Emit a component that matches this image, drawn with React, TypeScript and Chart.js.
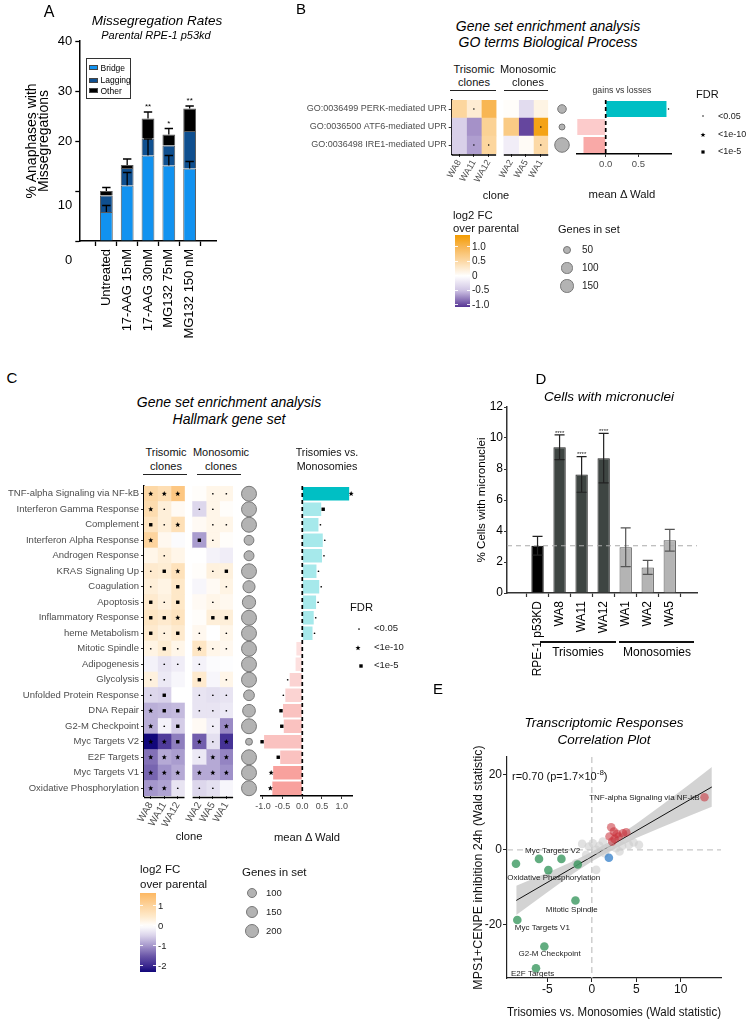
import React, { useEffect, useRef } from 'react';
import { Chart, registerables } from 'chart.js';

Chart.register(...registerables);
const FONT = '"Liberation Sans", Arial, Helvetica, sans-serif';
Chart.defaults.font.family = FONT;
Chart.defaults.color = '#222';

// ================= Panel A data =================
const aConditions = ['Untreated', '17-AAG 15nM', '17-AAG 30nM', 'MG132 75nM', 'MG132 150 nM'];
const aBridge = [5.8, 11.1, 17.1, 15.1, 14.5];
const aLagging = [3.3, 3.5, 3.4, 4.0, 7.5];
const aOther = [0.9, 0.6, 4.0, 2.2, 4.5];
const aBridgeErr = [1.3, 2.6, 3.3, 2.0, 1.4];
const aTotalErr = [0.7, 1.2, 1.3, 1.2, 0.5];
const aSignif = ['', '', '**', '*', '**'];
const aYTicks = [0, 10, 20, 30, 40];

// ================= Panel B data =================
const clones = ['WA8', 'WA11', 'WA12', 'WA2', 'WA5', 'WA1'];
const bTerms = ['GO:0036499 PERK-mediated UPR', 'GO:0036500 ATF6-mediated UPR', 'GO:0036498 IRE1-mediated UPR'];
const bLog2FC = [
  [0.55, 0.25, 1.0, 0.03, -0.3, 0.15],
  [-0.4, -0.7, 0.6, 0.7, -1.0, 1.3],
  [-0.4, -0.65, 0.55, -0.15, 0.05, 0.5],
];
const bFdr = ['-d----', '-----d', '-dd--d'];
const bGenes = [50, 14, 181];
const bWald = [0.93, -0.435, -0.34];
const bWaldFdr = ['d', '-', '-'];
const bWaldTicks = [0, 0.5];
const bColorTicks = [1.0, 0.5, 0, -0.5, -1.0];
const bSizeTicks = [50, 100, 150];

// ================= Panel C data =================
const cSets = [
  'TNF-alpha Signaling via NF-kB', 'Interferon Gamma Response', 'Complement', 'Interferon Alpha Response',
  'Androgen Response', 'KRAS Signaling Up', 'Coagulation', 'Apoptosis', 'Inflammatory Response',
  'heme Metabolism', 'Mitotic Spindle', 'Adipogenesis', 'Glycolysis', 'Unfolded Protein Response',
  'DNA Repair', 'G2-M Checkpoint', 'Myc Targets V2', 'E2F Targets', 'Myc Targets V1', 'Oxidative Phosphorylation',
];
const cLog2FC = [
  [0.9, 0.75, 1.3, 0.05, 0.2, 0.2],
  [0.8, 0.35, 0.1, -0.45, 0.2, 0.05],
  [0.6, 0.35, 0.7, 0.1, 0.2, 0.2],
  [1.0, 0.15, -0.05, -0.95, 0.2, 0.05],
  [0.2, 0.35, 0.2, 0.0, -0.15, -0.2],
  [0.45, 0.4, 0.65, 0.05, 0.3, 0.3],
  [0.35, 0.25, 0.5, -0.1, 0.1, 0.25],
  [0.45, 0.3, 0.5, 0.1, 0.2, 0.15],
  [0.55, 0.45, 0.6, 0.05, 0.35, 0.35],
  [0.45, 0.3, 0.45, 0.15, 0.0, 0.2],
  [0.25, 0.4, 0.2, 0.55, 0.2, 0.15],
  [-0.15, -0.3, -0.2, -0.15, -0.05, -0.02],
  [0.3, -0.25, -0.1, 0.45, -0.1, 0.2],
  [-0.45, -0.5, 0.0, -0.3, -0.35, -0.3],
  [-0.8, -0.75, -0.7, -0.3, -0.3, -0.25],
  [-0.8, -0.15, -0.55, 0.1, -0.2, -1.1],
  [-2.35, -1.8, -1.2, -1.45, -0.35, -1.9],
  [-1.3, -0.85, -0.95, -0.25, -0.85, -1.15],
  [-1.4, -1.05, -0.85, -0.85, -0.85, -1.05],
  [-1.0, -0.9, -0.3, -0.45, -0.35, -0.1],
];
const cFdr = [
  'sss-dd', 'sd-dd-', 'qds-dd', 's--qd-', '-d----', 'dqs-dq', 'd-q--d', 'qdq-d-', 'qqs-qq', 'qdqd-d',
  'dqdsdd', '-ddd--', 'dd-q-d', 'dq-ddd', 'sqqddd', 'sdq-ds', 'ssqsds', 'sssdss', 'ssssss', 'ssddd-',
];
const cGenes = [200, 200, 200, 97, 100, 200, 138, 161, 200, 200, 199, 200, 200, 113, 150, 200, 58, 200, 200, 200];
const cWald = [1.19, 0.48, 0.41, 0.52, 0.5, 0.36, 0.43, 0.35, 0.29, 0.26, -0.15, -0.17, -0.32, -0.43, -0.49, -0.47, -0.97, -0.56, -0.74, -0.76];
const cWaldFdr = ['s', 'q', 'd', 'd', 'd', 'd', 'd', 'd', 'd', 'd', '-', '-', 'd', 'd', 'q', 'q', 'q', 'q', 's', 's'];
const cWaldTicks = [-1, -0.5, 0, 0.5, 1];
const cColorTicks = [1, 0, -1, -2];
const cSizeTicks = [100, 150, 200];

// ================= Panel D data =================
const dGroups = ['RPE-1 p53KD', 'WA8', 'WA11', 'WA12', 'WA1', 'WA2', 'WA5'];
const dMean = [3.05, 9.4, 7.65, 8.7, 2.95, 1.65, 3.4];
const dErr = [0.6, 0.8, 1.15, 1.6, 1.25, 0.45, 0.7];
const dSignif = ['', '****', '****', '****', '', '', ''];
const dBaseline = 3.05;
const dYTicks = [0, 2, 4, 6, 8, 10, 12];

// ================= Panel E data =================
const eGrey = [
  { x: -1.09, y: 1.6 }, { x: 0.11, y: 1.78 }, { x: 0.86, y: 1.07 }, { x: 1.24, y: 2.22 }, { x: 1.69, y: 0.18 },
  { x: 1.43, y: -0.89 }, { x: -0.64, y: -1.33 }, { x: 0.49, y: -5.33 }, { x: 3.42, y: 1.07 }, { x: 4.17, y: 1.33 },
  { x: 4.7, y: 1.96 }, { x: 5.3, y: 1.33 }, { x: 3.12, y: -0.44 }, { x: 2.74, y: 0.44 }, { x: 0.49, y: 0 },
  { x: -0.34, y: 0.89 }, { x: 2.18, y: 0.89 }, { x: -1.77, y: -3.56 },
];
const eRed = [
  { x: 12.67, y: 14.04, label: 'TNF-alpha Signaling via NF-kB' },
  { x: 2.18, y: 6.04, label: '' }, { x: 2.48, y: 4.89, label: '' }, { x: 1.99, y: 3.56, label: '' },
  { x: 2.56, y: 2.93, label: '' }, { x: 3.01, y: 3.56, label: '' }, { x: 3.5, y: 4.44, label: '' },
  { x: 3.87, y: 4.71, label: '' }, { x: 2.29, y: 2.22, label: '' }, { x: 2.82, y: 4.27, label: '' },
];
const eBlue = [{ x: 1.92, y: -2.1 }];
const eGreen = [
  { x: -8.53, y: -3.7, label: '' },
  { x: -5.94, y: -2.4, label: 'Myc Targets V2' },
  { x: -3.42, y: -2.4, label: '' },
  { x: -1.58, y: -3.9, label: '' },
  { x: -4.89, y: -5.4, label: 'Oxidative Phosphorylation' },
  { x: -1.84, y: -13.5, label: 'Mitotic Spindle' },
  { x: -8.38, y: -18.7, label: 'Myc Targets V1' },
  { x: -5.34, y: -25.8, label: 'G2-M Checkpoint' },
  { x: -6.28, y: -31.6, label: 'E2F Targets' },
];
const eFitX = [-8.5, 13.5];
const eFitY = [-13.5, 16.8];
const eBandX = [-8.5, -5, -2, 0, 2, 5, 8, 11, 13.5];
const eBandLow = [-17.4, -11.3, -6.2, -3.1, -0.35, 3.2, 6.2, 9.1, 11.5];
const eBandHigh = [-9.6, -6.1, -2.9, -0.5, 2.25, 7.0, 12.2, 17.5, 22.1];
const eXTicks = [-5, 0, 5, 10];
const eYTicks = [-20, 0, 20];

// ================= styles =================
const aColors = { bridge: '#1192f0', lagging: '#0f4f8f', other: '#000000' };
const aYLabelShift = [19.5, 14, 0, 0, 0]; // label offsets (px) as printed in the source figure
const dBarColors = ['#000000', '#3e4542', '#3e4542', '#3e4542', '#b4b4b4', '#b4b4b4', '#b4b4b4'];
const dBorderColors = ['#000', '#222', '#222', '#222', '#555', '#555', '#555'];
const bWaldColors = ['#00bfc4', '#fccbcb', '#f9a9a7'];
const waldColor = (v: number, f: string) => v >= 0
  ? (f === 's' ? '#00bfc4' : '#a6e9eb')
  : (f === 's' ? '#f8a19d' : f === 'q' ? '#fac2c0' : f === 'd' ? '#fbd3d2' : '#fde0df');
const eLabelStyle: Record<string, { dx: number; dy: number; align: CanvasTextAlign }> = {
  'TNF-alpha Signaling via NF-kB': { dx: -5, dy: 0, align: 'right' },
  'Myc Targets V2': { dx: 13.6, dy: -8, align: 'center' },
  'Oxidative Phosphorylation': { dx: 5.3, dy: 8, align: 'center' },
  'Mitotic Spindle': { dx: -3.7, dy: 9, align: 'center' },
  'Myc Targets V1': { dx: 25, dy: 8, align: 'center' },
  'G2-M Checkpoint': { dx: 5.3, dy: 7.6, align: 'center' },
  'E2F Targets': { dx: -3.4, dy: 5.7, align: 'center' },
};

type Stop = [number, string];
const hexRgb = (c: string) => { const n = parseInt(c.slice(1), 16); return [(n >> 16) & 255, (n >> 8) & 255, n & 255]; };
const rgbStr = (c: number[]) => `rgb(${c.map((x) => Math.round(x)).join(',')})`;
function colorScale(stops: Stop[]) {
  const s = stops.slice().sort((a, b) => a[0] - b[0]).map(([v, c]) => ({ v, c: hexRgb(c) }));
  return (v: number) => {
    if (v <= s[0].v) return rgbStr(s[0].c);
    if (v >= s[s.length - 1].v) return rgbStr(s[s.length - 1].c);
    for (let k = 0; k < s.length - 1; k++) {
      const a = s[k], b = s[k + 1];
      if (v >= a.v && v <= b.v) {
        const t = (v - a.v) / (b.v - a.v);
        return rgbStr(a.c.map((ch, m) => ch + (b.c[m] - ch) * t));
      }
    }
    return rgbStr(s[0].c);
  };
}
const bColor = colorScale([[1.41, '#f39c00'], [1.0, '#f8b653'], [0.5, '#fcd9a6'], [0, '#ffffff'], [-0.5, '#cfc4e4'], [-1.07, '#563494']]);
const cColor = colorScale([[1.64, '#fdb863'], [1.0, '#fdd49e'], [0.5, '#fee8c8'], [0, '#ffffff'], [-0.5, '#d9d2ea'], [-1.0, '#a597cc'], [-1.5, '#6c58a9'], [-2.0, '#3b2890'], [-2.31, '#12077a']]);
const bRadius = (n: number) => Math.sqrt(5.2 + 0.265 * n);
const cRadius = (n: number) => Math.sqrt(Math.max(4, 0.31 * n - 6));

type SymSize = { dot: number; sq: number; star: number };
const bSym: SymSize = { dot: 0.75, sq: 3.2, star: 2.6 };
const cSym: SymSize = { dot: 0.85, sq: 3.4, star: 2.7 };

function drawSym(ctx: CanvasRenderingContext2D, kind: string, x: number, y: number, s: SymSize) {
  ctx.fillStyle = '#000';
  if (kind === 'd') {
    ctx.beginPath(); ctx.arc(x, y, s.dot, 0, Math.PI * 2); ctx.fill();
  } else if (kind === 'q') {
    ctx.fillRect(x - s.sq / 2, y - s.sq / 2, s.sq, s.sq);
  } else if (kind === 's') {
    ctx.beginPath();
    for (let k = 0; k < 10; k++) {
      const a = -Math.PI / 2 + (k * Math.PI) / 5;
      const r = k % 2 ? s.star * 0.42 : s.star;
      const px = x + r * Math.cos(a), py = y + r * Math.sin(a);
      if (k === 0) ctx.moveTo(px, py); else ctx.lineTo(px, py);
    }
    ctx.closePath(); ctx.fill();
  }
}

const baseOptions = {
  responsive: false,
  animation: false,
  events: [],
  devicePixelRatio: 1,
};
const noPlugins = { legend: { display: false }, tooltip: { enabled: false } };

// ================= Panel A =================
function makeA() {
  const stackTop = (i: number) => aBridge[i] + aLagging[i] + aOther[i];
  const errPlugin = {
    id: 'aErr',
    afterDatasetsDraw(chart: any) {
      const { ctx, scales: { x, y } } = chart;
      ctx.save();
      ctx.strokeStyle = '#000';
      ctx.lineWidth = 1.3;
      aConditions.forEach((_, i) => {
        const px = x.getPixelForValue(i);
        const segs = [[aBridge[i], aBridgeErr[i]], [stackTop(i), aTotalErr[i]]];
        segs.forEach(([b, e]) => {
          const y0 = y.getPixelForValue(b), y1 = y.getPixelForValue(b + e);
          ctx.beginPath();
          ctx.moveTo(px, y0); ctx.lineTo(px, y1);
          ctx.moveTo(px - 4.2, y1); ctx.lineTo(px + 4.2, y1);
          ctx.stroke();
        });
        if (aSignif[i]) {
          ctx.fillStyle = '#000';
          ctx.font = `8px ${FONT}`;
          ctx.textAlign = 'center';
          ctx.textBaseline = 'bottom';
          ctx.fillText(aSignif[i], px, y.getPixelForValue(stackTop(i) + aTotalErr[i]) - 1);
        }
      });
      ctx.fillStyle = '#000';
      ctx.font = `13px ${FONT}`;
      ctx.textAlign = 'right';
      ctx.textBaseline = 'middle';
      aYTicks.forEach((v, k) => {
        ctx.fillText(String(v), chart.chartArea.left - 7, y.getPixelForValue(v) + aYLabelShift[k]);
      });
      ctx.restore();
    },
  };
  const ds = (label: string, vals: number[], color: string) => ({
    label, data: vals.map((v, i) => ({ x: i, y: v })), backgroundColor: color,
    borderColor: '#5a5a5a', borderWidth: 1, barPercentage: 0.615, categoryPercentage: 1,
  });
  return {
    type: 'bar',
    data: { datasets: [ds('Bridge', aBridge, aColors.bridge), ds('Lagging', aLagging, aColors.lagging), ds('Other', aOther, aColors.other)] },
    options: {
      ...baseOptions,
      layout: { padding: { left: 20, top: 41, right: 13.3, bottom: 0 } },
      plugins: noPlugins,
      scales: {
        x: {
          type: 'linear', stacked: true, min: -0.64, max: 4.64,
          afterBuildTicks: (s: any) => { s.ticks = aConditions.map((_, i) => ({ value: i })); },
          ticks: { autoSkip: false, minRotation: 90, maxRotation: 90, font: { size: 13 }, color: '#000', padding: 3, callback: (_v: any, i: number) => aConditions[i] },
          grid: { drawOnChartArea: false, tickLength: 5, tickColor: '#000', tickWidth: 1.3 },
          border: { color: '#000', width: 1.5 },
          afterFit: (s: any) => { s.height = 104; },
        },
        y: {
          stacked: true, min: 0, max: 40,
          afterBuildTicks: (s: any) => { s.ticks = aYTicks.map((v) => ({ value: v })); },
          ticks: { display: false },
          grid: { drawOnChartArea: false, tickLength: 4, tickColor: '#000', tickWidth: 1.3 },
          border: { color: '#000', width: 1.5 },
          title: { display: true, text: ['% Anaphases with', 'Missegregations'], font: { size: 14, lineHeight: 0.9 }, color: '#000', padding: { top: 5.7, bottom: 0 } },
          afterFit: (s: any) => { s.width = 59.3; },
        },
      },
    },
    plugins: [errPlugin],
  };
}

// ================= Heatmap (B & C) =================
type HeatParams = {
  rows: string[]; values: number[][]; fdr: string[]; color: (v: number) => string; gap: number;
  rowFont: number; colFont: number; yWidth: number; padTop: number; padRight: number; xHeight: number;
  rotation: number; sym: SymSize; lineOffset: number;
};
function heatmapConfig(p: HeatParams) {
  const order = [0, 1, 2, -1, 3, 4, 5];
  const datasets = order.map((j) => (j < 0
    ? { data: p.rows.map(() => p.gap), backgroundColor: 'rgba(0,0,0,0)', borderWidth: 0, colIndex: -1 }
    : { data: p.rows.map(() => 1), backgroundColor: p.rows.map((_, i) => p.color(p.values[i][j])), borderWidth: 0, colIndex: j }));
  const tickPos = [0.5, 1.5, 2.5, 3.5 + p.gap, 4.5 + p.gap, 5.5 + p.gap];
  const symPlugin = {
    id: 'heatSym',
    afterDatasetsDraw(chart: any) {
      const { ctx } = chart;
      ctx.save();
      chart.data.datasets.forEach((d: any, di: number) => {
        if (d.colIndex < 0) return;
        chart.getDatasetMeta(di).data.forEach((el: any, i: number) => {
          const { x, base, y } = el.getProps(['x', 'base', 'y'], true);
          drawSym(ctx, p.fdr[i][d.colIndex], (x + base) / 2, y, p.sym);
        });
      });
      ctx.restore();
    },
    afterDraw(chart: any) {
      const { ctx, chartArea, scales: { x } } = chart;
      ctx.save();
      ctx.strokeStyle = '#000';
      ctx.lineWidth = 1.5;
      const yy = chartArea.bottom + p.lineOffset;
      [[0, 3], [3 + p.gap, 6 + p.gap]].forEach(([a, b]) => {
        ctx.beginPath();
        ctx.moveTo(x.getPixelForValue(a), yy);
        ctx.lineTo(x.getPixelForValue(b), yy);
        ctx.stroke();
      });
      ctx.restore();
    },
  };
  return {
    type: 'bar',
    data: { labels: p.rows, datasets: datasets.map((d) => ({ ...d, barPercentage: 1, categoryPercentage: 1 })) },
    options: {
      ...baseOptions,
      indexAxis: 'y',
      layout: { padding: { left: 0, top: p.padTop, right: p.padRight, bottom: 0 } },
      plugins: noPlugins,
      scales: {
        x: {
          type: 'linear', stacked: true, min: 0, max: 6 + p.gap,
          afterBuildTicks: (s: any) => { s.ticks = tickPos.map((v) => ({ value: v })); },
          ticks: { autoSkip: false, minRotation: p.rotation, maxRotation: p.rotation, font: { size: p.colFont }, color: '#4d4d4d', padding: 1, callback: (_v: any, i: number) => clones[i] },
          grid: { drawOnChartArea: false, tickLength: 3, tickColor: '#333' },
          border: { display: false },
          afterFit: (s: any) => { s.height = p.xHeight; },
        },
        y: {
          type: 'category', stacked: true, offset: true,
          ticks: { autoSkip: false, font: { size: p.rowFont }, color: '#4d4d4d', padding: 2 },
          grid: { drawOnChartArea: false, offset: false, tickLength: 3, tickColor: '#333' },
          border: { display: true, color: '#000', width: 1.5 },
          afterFit: (s: any) => { s.width = p.yWidth; },
        },
      },
    },
    plugins: [symPlugin],
  };
}

function bubbleConfig(rows: string[], genes: number[], radius: (n: number) => number, padTop: number, padBottom: number) {
  return {
    type: 'bubble',
    data: {
      labels: rows,
      datasets: [{
        data: rows.map((r, i) => ({ x: 0, y: r, r: radius(genes[i]) })),
        backgroundColor: '#b3b3b3', borderColor: '#777', borderWidth: 1, clip: false,
      }],
    },
    options: {
      ...baseOptions,
      layout: { padding: { left: 0, right: 0, top: padTop, bottom: padBottom } },
      plugins: noPlugins,
      scales: {
        x: { type: 'linear', min: -1, max: 1, display: false },
        y: { type: 'category', labels: rows, offset: true, display: false },
      },
    },
  };
}

type WaldParams = {
  rows: string[]; values: number[]; fdr: string[]; colors: string[]; min: number; max: number; ticks: number[];
  tickFont: number; padLeft: number; padRight: number; padTop: number; xHeight: number; sym: SymSize; barPct: number;
};
function waldConfig(p: WaldParams) {
  const plugin = {
    id: 'wald',
    afterDatasetsDraw(chart: any) {
      const { ctx, chartArea, scales: { x } } = chart;
      ctx.save();
      chart.getDatasetMeta(0).data.forEach((el: any, i: number) => {
        const { x: ex, y: ey } = el.getProps(['x', 'y'], true);
        drawSym(ctx, p.fdr[i], ex + (p.values[i] >= 0 ? 2 : -2), ey, p.sym);
      });
      const x0 = x.getPixelForValue(0);
      ctx.strokeStyle = '#000';
      ctx.lineWidth = 1.7;
      ctx.setLineDash([4, 3]);
      ctx.beginPath();
      ctx.moveTo(x0, chartArea.top);
      ctx.lineTo(x0, chartArea.bottom);
      ctx.stroke();
      ctx.restore();
    },
  };
  return {
    type: 'bar',
    data: { labels: p.rows, datasets: [{ data: p.values, backgroundColor: p.colors, borderWidth: 0, barPercentage: p.barPct, categoryPercentage: 1 }] },
    options: {
      ...baseOptions,
      indexAxis: 'y',
      layout: { padding: { left: p.padLeft, right: p.padRight, top: p.padTop, bottom: 0 } },
      plugins: noPlugins,
      scales: {
        x: {
          type: 'linear', min: p.min, max: p.max,
          afterBuildTicks: (s: any) => { s.ticks = p.ticks.map((v) => ({ value: v })); },
          ticks: { autoSkip: false, maxRotation: 0, font: { size: p.tickFont }, color: '#4d4d4d', padding: 2, callback: (v: any) => Number(v).toFixed(1) },
          grid: { drawOnChartArea: false, tickLength: 3, tickColor: '#333' },
          border: { display: true, color: '#000', width: 1.5 },
          afterFit: (s: any) => { s.height = p.xHeight; },
        },
        y: { type: 'category', offset: true, display: false },
      },
    },
    plugins: [plugin],
  };
}

// ================= Panel D =================
function makeD() {
  const plugin = {
    id: 'dErr',
    afterDatasetsDraw(chart: any) {
      const { ctx, chartArea, scales: { x, y } } = chart;
      ctx.save();
      const yb = y.getPixelForValue(dBaseline);
      ctx.strokeStyle = '#aaaaaa';
      ctx.lineWidth = 1.2;
      ctx.setLineDash([5, 4]);
      ctx.beginPath(); ctx.moveTo(chartArea.left, yb); ctx.lineTo(chartArea.right, yb); ctx.stroke();
      ctx.setLineDash([]);
      dGroups.forEach((_, i) => {
        const px = x.getPixelForValue(i);
        const y0 = y.getPixelForValue(dMean[i] - dErr[i]), y1 = y.getPixelForValue(dMean[i] + dErr[i]);
        ctx.strokeStyle = i >= 4 ? '#555' : '#222';
        ctx.lineWidth = 1.2;
        ctx.beginPath();
        ctx.moveTo(px, y0); ctx.lineTo(px, y1);
        ctx.moveTo(px - 5, y0); ctx.lineTo(px + 5, y0);
        ctx.moveTo(px - 5, y1); ctx.lineTo(px + 5, y1);
        ctx.stroke();
        if (dSignif[i]) {
          ctx.fillStyle = '#222';
          ctx.font = `6px ${FONT}`;
          ctx.textAlign = 'center';
          ctx.textBaseline = 'bottom';
          ctx.fillText(dSignif[i], px, y1 + 1);
        }
      });
      ctx.restore();
    },
  };
  return {
    type: 'bar',
    data: {
      datasets: [{
        data: dMean.map((v, i) => ({ x: i, y: v })), backgroundColor: dBarColors, borderColor: dBorderColors,
        borderWidth: 1, barPercentage: 0.56, categoryPercentage: 1,
      }],
    },
    options: {
      ...baseOptions,
      layout: { padding: { left: 40, top: 22, right: 53, bottom: 0 } },
      plugins: noPlugins,
      scales: {
        x: {
          type: 'linear', min: -0.77, max: 6.62,
          afterBuildTicks: (s: any) => { s.ticks = dGroups.map((_, i) => ({ value: i })); },
          ticks: { autoSkip: false, minRotation: 90, maxRotation: 90, font: { size: 12 }, color: '#000', padding: 4, callback: (_v: any, i: number) => dGroups[i] },
          grid: { drawOnChartArea: false, tickLength: 4, tickColor: '#333', tickWidth: 1.2 },
          border: { color: '#333', width: 1.5 },
          afterFit: (s: any) => { s.height = 92; },
        },
        y: {
          min: 0, max: 12,
          afterBuildTicks: (s: any) => { s.ticks = dYTicks.map((v) => ({ value: v })); },
          ticks: { font: { size: 12 }, color: '#000', padding: 1 },
          grid: { drawOnChartArea: false, tickLength: 3, tickColor: '#333', tickWidth: 1.2 },
          border: { color: '#333', width: 1.5 },
          title: { display: true, text: '% Cells with micronuclei', font: { size: 11.6 }, color: '#000', padding: { top: 5, bottom: 0 } },
          afterFit: (s: any) => { s.width = 37; },
        },
      },
    },
    plugins: [plugin],
  };
}

// ================= Panel E =================
function makeE() {
  const band = (ys: number[]) => eBandX.map((x, i) => ({ x, y: ys[i] }));
  const pointDs = (data: any[], color: string, order: number) => ({
    data, backgroundColor: color, pointBackgroundColor: color, pointRadius: 4.3, pointBorderWidth: 0, borderWidth: 0, order,
  });
  const plugin = {
    id: 'eExtra',
    beforeDatasetsDraw(chart: any) {
      const { ctx, chartArea, scales: { x, y } } = chart;
      ctx.save();
      ctx.strokeStyle = '#c8c8c8';
      ctx.lineWidth = 1.3;
      ctx.setLineDash([6, 4]);
      const x0 = x.getPixelForValue(0), y0 = y.getPixelForValue(0);
      ctx.beginPath();
      ctx.moveTo(x0, chartArea.top); ctx.lineTo(x0, chartArea.bottom);
      ctx.moveTo(chartArea.left, y0); ctx.lineTo(chartArea.right, y0);
      ctx.stroke();
      ctx.restore();
    },
    afterDatasetsDraw(chart: any) {
      const { ctx } = chart;
      ctx.save();
      ctx.fillStyle = '#222';
      ctx.font = `8px ${FONT}`;
      ctx.textBaseline = 'middle';
      chart.data.datasets.forEach((d: any, di: number) => {
        if (!d.labelled) return;
        chart.getDatasetMeta(di).data.forEach((el: any, i: number) => {
          const lab = d.data[i].label;
          if (!lab) return;
          const st = eLabelStyle[lab];
          const { x, y } = el.getProps(['x', 'y'], true);
          ctx.textAlign = st.align;
          ctx.fillText(lab, x + st.dx, y + st.dy);
        });
      });
      ctx.restore();
    },
  };
  return {
    type: 'scatter',
    data: {
      datasets: [
        pointDs(eGrey, 'rgba(205,205,205,0.6)', 8),
        { data: band(eBandLow), showLine: true, pointRadius: 0, borderWidth: 0, borderColor: 'rgba(0,0,0,0)', fill: false, order: 10 },
        { data: band(eBandHigh), showLine: true, pointRadius: 0, borderWidth: 0, borderColor: 'rgba(0,0,0,0)', fill: '-1', backgroundColor: 'rgba(175,175,175,0.55)', order: 10 },
        { data: eFitX.map((x, i) => ({ x, y: eFitY[i] })), showLine: true, pointRadius: 0, borderColor: '#111', borderWidth: 1, fill: false, order: 9 },
        { ...pointDs(eRed, 'rgba(200,45,55,0.55)', 3), labelled: true },
        pointDs(eBlue, 'rgba(50,125,200,0.75)', 2),
        { ...pointDs(eGreen, 'rgba(45,145,85,0.75)', 1), labelled: true },
      ],
    },
    options: {
      ...baseOptions,
      layout: { padding: { left: 40, top: 12, right: 29, bottom: 0 } },
      plugins: noPlugins,
      scales: {
        x: {
          type: 'linear', min: -9.54, max: 14.53,
          afterBuildTicks: (s: any) => { s.ticks = eXTicks.map((v) => ({ value: v })); },
          ticks: { font: { size: 12 }, color: '#111', padding: 0 },
          grid: { drawOnChartArea: false, tickLength: 4, tickColor: '#222' },
          border: { color: '#222', width: 1.2 },
          title: { display: true, text: 'Trisomies vs. Monosomies (Wald statistic)', font: { size: 12.3 }, color: '#111', padding: { top: 0, bottom: 2.6 } },
          afterFit: (s: any) => { s.height = 45; },
        },
        y: {
          type: 'linear', min: -34.2, max: 24.8,
          afterBuildTicks: (s: any) => { s.ticks = eYTicks.map((v) => ({ value: v })); },
          ticks: { font: { size: 12 }, color: '#111', padding: 1, callback: (v: any) => String(v) },
          grid: { drawOnChartArea: false, tickLength: 4, tickColor: '#222' },
          border: { color: '#222', width: 1.2 },
          title: { display: true, text: 'MPS1+CENPE inhibition 24h (Wald statistic)', font: { size: 12.4 }, color: '#111', padding: { top: 1, bottom: 0 } },
          afterFit: (s: any) => { s.width = 37; },
        },
      },
    },
    plugins: [plugin],
  };
}

// ================= components =================
function ChartCanvas({ x, y, w, h, make }: { x: number; y: number; w: number; h: number; make: () => any }) {
  const ref = useRef<HTMLCanvasElement | null>(null);
  useEffect(() => {
    if (!ref.current) return;
    const chart = new Chart(ref.current, make());
    return () => chart.destroy();
  }, []);
  return <canvas ref={ref} width={w} height={h} style={{ position: 'absolute', left: x, top: y, width: w, height: h }} />;
}

function Txt({ x, y, children, size = 11, italic = false, anchor = 'middle', color = '#111' }: any) {
  const tx = anchor === 'middle' ? '-50%' : anchor === 'end' ? '-100%' : '0';
  return (
    <div style={{ position: 'absolute', left: x, top: y, transform: `translate(${tx},-50%)`, fontSize: size, fontStyle: italic ? 'italic' : 'normal', color, whiteSpace: 'nowrap', lineHeight: 1, fontFamily: FONT }}>
      {children}
    </div>
  );
}

function HLine({ x1, x2, y, w = 1, color = '#222' }: any) {
  return <div style={{ position: 'absolute', left: x1, top: y - w / 2, width: x2 - x1, height: w, background: color }} />;
}

function SymIcon({ x, y, kind, s }: { x: number; y: number; kind: string; s: SymSize }) {
  const pts: string[] = [];
  for (let k = 0; k < 10; k++) {
    const a = -Math.PI / 2 + (k * Math.PI) / 5;
    const r = k % 2 ? s.star * 0.42 : s.star;
    pts.push(`${6 + r * Math.cos(a)},${6 + r * Math.sin(a)}`);
  }
  return (
    <svg width={12} height={12} style={{ position: 'absolute', left: x - 6, top: y - 6 }}>
      {kind === 'd' && <circle cx={6} cy={6} r={s.dot} fill="#000" />}
      {kind === 'q' && <rect x={6 - s.sq / 2} y={6 - s.sq / 2} width={s.sq} height={s.sq} fill="#000" />}
      {kind === 's' && <polygon points={pts.join(' ')} fill="#000" />}
    </svg>
  );
}

function ColorBar({ x, y, w, h, top, bottom, color, ticks, size, fmt }: any) {
  const n = 30;
  const stops = Array.from({ length: n + 1 }, (_, k) => `${color(top - ((top - bottom) * k) / n)} ${((k / n) * 100).toFixed(2)}%`).join(',');
  return (
    <>
      <div style={{ position: 'absolute', left: x, top: y, width: w, height: h, background: `linear-gradient(to bottom, ${stops})` }} />
      {ticks.map((t: number) => {
        const py = y + ((top - t) / (top - bottom)) * h;
        return (
          <React.Fragment key={t}>
            <div style={{ position: 'absolute', left: x, top: py - 0.5, width: 3, height: 1, background: 'rgba(255,255,255,0.9)' }} />
            <div style={{ position: 'absolute', left: x + w - 3, top: py - 0.5, width: 3, height: 1, background: 'rgba(255,255,255,0.9)' }} />
            <Txt x={x + w + 2} y={py} size={size} anchor="start" color="#222">{fmt(t)}</Txt>
          </React.Fragment>
        );
      })}
    </>
  );
}

function Circle({ x, y, r }: any) {
  return <div style={{ position: 'absolute', left: x - r, top: y - r, width: 2 * r, height: 2 * r, borderRadius: '50%', background: '#b3b3b3', border: '1px solid #777', boxSizing: 'border-box' }} />;
}

export default function App() {
  return (
    <div style={{ position: 'absolute', left: 0, top: 0, width: 750, height: 1023, background: '#fff', overflow: 'hidden', fontFamily: FONT }}>
      {/* ---------- A ---------- */}
      <ChartCanvas x={0} y={0} w={230} h={345} make={makeA} />
      <Txt x={49} y={12} size={16} color="#000">A</Txt>
      <Txt x={157} y={20.5} size={13.5} italic color="#000">Missegregation Rates</Txt>
      <Txt x={156} y={34.5} size={11} italic color="#000">Parental RPE-1 p53kd</Txt>
      <div style={{ position: 'absolute', left: 86, top: 58, width: 45, height: 41, border: '1px solid #333', boxSizing: 'border-box', background: '#fff' }} />
      {[['Bridge', aColors.bridge, 67.7], ['Lagging', aColors.lagging, 80], ['Other', aColors.other, 90.7]].map(([t, c, yy]: any) => (
        <React.Fragment key={t}>
          <div style={{ position: 'absolute', left: 89.3, top: yy - 2.5, width: 9, height: 5, background: c, border: '0.5px solid #444', boxSizing: 'border-box' }} />
          <Txt x={100.5} y={yy} size={8.5} anchor="start" color="#000">{t}</Txt>
        </React.Fragment>
      ))}

      {/* ---------- B ---------- */}
      <ChartCanvas x={300} y={90} w={255} h={100} make={() => heatmapConfig({
        rows: bTerms, values: bLog2FC, fdr: bFdr, color: bColor, gap: 0.52, rowFont: 9, colFont: 9,
        yWidth: 151.7, padTop: 10, padRight: 6.8, xHeight: 36, rotation: 60, sym: bSym, lineOffset: 1,
      })} />
      <ChartCanvas x={552.3} y={90} w={20} h={100} make={() => bubbleConfig(bTerms, bGenes, bRadius, 10, 36)} />
      <ChartCanvas x={565} y={90} w={115} h={100} make={() => waldConfig({
        rows: bTerms, values: bWald, fdr: bWaldFdr, colors: bWaldColors, min: -0.444, max: 1.01, ticks: bWaldTicks,
        tickFont: 9.5, padLeft: 11.7, padRight: 8.3, padTop: 10, xHeight: 36, sym: bSym, barPct: 0.88,
      })} />
      <Txt x={301} y={8} size={15} color="#000">B</Txt>
      <Txt x={548} y={26} size={14} italic color="#000">Gene set enrichment analysis</Txt>
      <Txt x={548} y={42} size={14} italic color="#000">GO terms Biological Process</Txt>
      <Txt x={474} y={69} size={11}>Trisomic</Txt>
      <Txt x={474} y={82} size={11}>clones</Txt>
      <Txt x={528} y={69} size={11}>Monosomic</Txt>
      <Txt x={528} y={82} size={11}>clones</Txt>
      <HLine x1={450} x2={496} y={90.7} />
      <HLine x1={504} x2={548} y={90.7} />
      <Txt x={622} y={90} size={8.7} color="#333">gains vs losses</Txt>
      <Txt x={496} y={195} size={11}>clone</Txt>
      <Txt x={622} y={195} size={11.3}>mean Δ Wald</Txt>
      <Txt x={696} y={94} size={11} anchor="start">FDR</Txt>
      <SymIcon x={703.3} y={115.7} kind="d" s={bSym} />
      <SymIcon x={703.3} y={134.7} kind="s" s={bSym} />
      <SymIcon x={703.3} y={152.3} kind="q" s={bSym} />
      <Txt x={718} y={116} size={9} anchor="start" color="#222">{'<0.05'}</Txt>
      <Txt x={718} y={133.5} size={9} anchor="start" color="#222">{'<1e-10'}</Txt>
      <Txt x={718} y={151.3} size={9} anchor="start" color="#222">{'<1e-5'}</Txt>
      <Txt x={453} y={216} size={11.3} anchor="start">log2 FC</Txt>
      <Txt x={453} y={228.5} size={11.3} anchor="start">over parental</Txt>
      <ColorBar x={455} y={235} w={15} h={72} top={1.41} bottom={-1.07} color={bColor} ticks={bColorTicks} size={10} fmt={(t: number) => (t === 0 ? '0' : t.toFixed(1))} />
      <Txt x={558} y={229} size={11} anchor="start">Genes in set</Txt>
      {bSizeTicks.map((n, k) => (
        <React.Fragment key={n}>
          <Circle x={567} y={250 + k * 18} r={bRadius(n)} />
          <Txt x={582} y={250 + k * 18} size={10} anchor="start" color="#222">{n}</Txt>
        </React.Fragment>
      ))}

      {/* ---------- C ---------- */}
      <ChartCanvas x={0} y={476} w={240} h={364} make={() => heatmapConfig({
        rows: cSets, values: cLog2FC, fdr: cFdr, color: cColor, gap: 0.6, rowFont: 9.5, colFont: 10,
        yWidth: 144, padTop: 10, padRight: 6.9, xHeight: 44, rotation: 60, sym: cSym, lineOffset: 1.5,
      })} />
      <ChartCanvas x={239} y={476} w={20} h={364} make={() => bubbleConfig(cSets, cGenes, cRadius, 10, 44)} />
      <ChartCanvas x={245} y={476} w={115} h={364} make={() => waldConfig({
        rows: cSets, values: cWald, fdr: cWaldFdr, colors: cWald.map((v, i) => waldColor(v, cWaldFdr[i])),
        min: -1.056, max: 1.28, ticks: cWaldTicks, tickFont: 9, padLeft: 15.7, padRight: 7.3, padTop: 10, xHeight: 44, sym: cSym, barPct: 0.87,
      })} />
      <Txt x={12} y={377} size={15} color="#000">C</Txt>
      <Txt x={229} y={402} size={14} italic color="#000">Gene set enrichment analysis</Txt>
      <Txt x={229} y={419} size={14} italic color="#000">Hallmark gene set</Txt>
      <Txt x={166} y={452} size={11}>Trisomic</Txt>
      <Txt x={166} y={466} size={11}>clones</Txt>
      <Txt x={221} y={452} size={11}>Monosomic</Txt>
      <Txt x={221} y={466} size={11}>clones</Txt>
      <HLine x1={143} x2={187} y={474.5} />
      <HLine x1={197} x2={241} y={474.5} />
      <Txt x={327} y={452} size={10.7}>Trisomies vs.</Txt>
      <Txt x={327} y={466} size={10.7}>Monosomies</Txt>
      <Txt x={189} y={837} size={11.2}>clone</Txt>
      <Txt x={307} y={838} size={11.2}>mean Δ Wald</Txt>
      <Txt x={350} y={608} size={11.2} anchor="start">FDR</Txt>
      <SymIcon x={359} y={629} kind="d" s={cSym} />
      <SymIcon x={358} y={648} kind="s" s={cSym} />
      <SymIcon x={361} y={666} kind="q" s={cSym} />
      <Txt x={374} y={628} size={9.5} anchor="start" color="#222">{'<0.05'}</Txt>
      <Txt x={374} y={647} size={9.5} anchor="start" color="#222">{'<1e-10'}</Txt>
      <Txt x={374} y={664.5} size={9.5} anchor="start" color="#222">{'<1e-5'}</Txt>
      <Txt x={140} y={870} size={11.5} anchor="start">log2 FC</Txt>
      <Txt x={140} y={885} size={11.5} anchor="start">over parental</Txt>
      <ColorBar x={140} y={893} w={16} h={79} top={1.64} bottom={-2.31} color={cColor} ticks={cColorTicks} size={9.5} fmt={(t: number) => String(t)} />
      <Txt x={242} y={873} size={11.5} anchor="start">Genes in set</Txt>
      {cSizeTicks.map((n, k) => (
        <React.Fragment key={n}>
          <Circle x={252} y={893 + k * 19} r={cRadius(n)} />
          <Txt x={266} y={893 + k * 19} size={9.5} anchor="start" color="#222">{n}</Txt>
        </React.Fragment>
      ))}

      {/* ---------- D ---------- */}
      <ChartCanvas x={430} y={385} w={320} h={300} make={makeD} />
      <Txt x={541} y={378} size={15} color="#000">D</Txt>
      <Txt x={609} y={397} size={13.5} italic color="#000">Cells with micronuclei</Txt>
      <HLine x1={540} x2={616} y={642} w={1.2} color="#111" />
      <HLine x1={619} x2={694} y={642} w={1.2} color="#111" />
      <Txt x={578} y={652} size={12} color="#000">Trisomies</Txt>
      <Txt x={657} y={652} size={12} color="#000">Monosomies</Txt>

      {/* ---------- E ---------- */}
      <ChartCanvas x={430} y={745} w={320} h={278} make={makeE} />
      <Txt x={438} y={688} size={15} color="#000">E</Txt>
      <Txt x={604} y={723} size={13.5} italic color="#000">Transcriptomic Responses</Txt>
      <Txt x={604} y={739.5} size={13.5} italic color="#000">Correlation Plot</Txt>
      <Txt x={512} y={776} size={11} anchor="start" color="#111">
        r=0.70 (p=1.7×10<sup style={{ fontSize: 8, verticalAlign: 'super', lineHeight: 0 }}>-8</sup>)
      </Txt>
    </div>
  );
}
